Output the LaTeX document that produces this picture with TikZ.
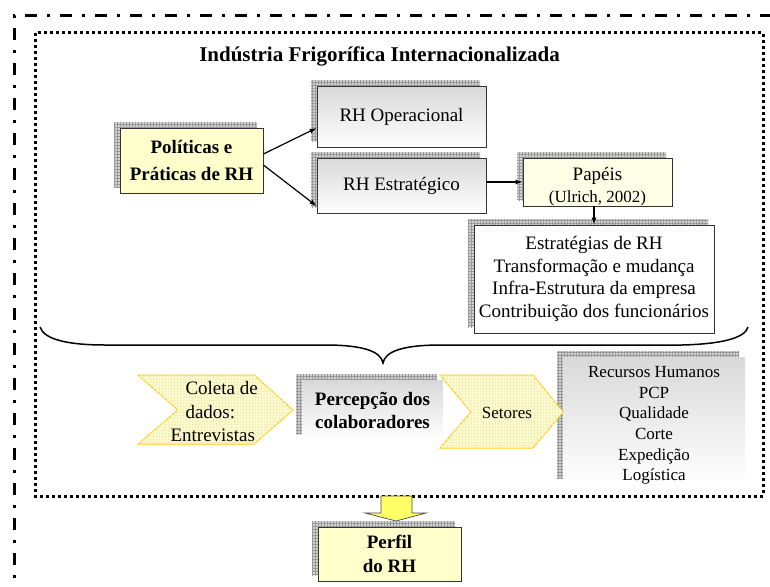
\documentclass[tikz,border=0pt]{standalone}
\usepackage{fontspec}
\setmainfont{Liberation Serif}
\usetikzlibrary{arrows.meta,patterns,shadows,calc}

\definecolor{lyellow}{HTML}{FFFFCC}
\definecolor{paleyellow}{HTML}{FFFFE8}
\definecolor{chevborder}{HTML}{FFCC00}
\definecolor{chevgrid}{HTML}{F4F0C4}
\definecolor{bigarrow}{HTML}{FFFF66}
\definecolor{boxline}{HTML}{333333}

\tikzset{
  gridshadow/.style={
    general shadow={shadow xshift=-6pt, shadow yshift=6pt, fill=gray!35},
    general shadow={shadow xshift=-6pt, shadow yshift=6pt, pattern=grid, pattern color=gray!80}},
  box/.style={draw=boxline, line width=0.8pt, inner sep=2pt, align=center, gridshadow},
  plainbox/.style={draw=none, inner sep=2pt, align=center, gridshadow},
  grad/.style={top color=gray!30, bottom color=white},
  txt/.style={font=\fontsize{19}{23}\selectfont, align=center},
  btxt/.style={font=\bfseries\fontsize{19}{23}\selectfont, align=center},
  stxt/.style={font=\fontsize{17}{20.6}\selectfont, align=center},
  arr/.style={-{Latex[length=7pt,width=5pt]}, line width=1.2pt, black},
  chev/.style={draw=chevborder, line width=1pt, fill=lyellow,
    postaction={pattern=grid, pattern color=chevgrid}},
  outerframe/.style={line width=3pt, dash pattern=on 12pt off 10pt on 3pt off 10pt},
  innerframe/.style={line width=3pt, dash pattern=on 3pt off 3pt},
}

\begin{document}
\begin{tikzpicture}[x=1pt,y=-1pt]
\useasboundingbox (0,0) rectangle (770,586);

% frames
\draw[outerframe] (14,600) -- (14,16) -- (780,16);
\draw[innerframe] (35,33) rectangle (763,496);

% title
\node[font=\bfseries\fontsize{21}{25}\selectfont] (title) at (379.5,56) {Indústria Frigorífica Internacionalizada};

% boxes
\node[box, btxt, fill=lyellow, minimum width=143pt, minimum height=65pt,
  font=\bfseries\fontsize{19}{27}\selectfont] (pol) at (191.5,160.5) {Políticas e\\Práticas de RH};
\node[box, txt, grad, minimum width=169pt, minimum height=61pt] (rhop) at (401.5,116.5) {RH Operacional};
\node[box, txt, grad, minimum width=169pt, minimum height=55pt] (rhest) at (401.5,185.5) {RH Estratégico};
\node[box, fill=paleyellow, minimum width=149pt, minimum height=48pt] (pap) at (597.5,182) {};
\node[font=\fontsize{19}{22}\selectfont, align=center] (paptxt) at (597.5,187)
  {Papéis\\{\fontsize{17}{22}\selectfont (Ulrich, 2002)}};
\node[box, font=\fontsize{19}{22.5}\selectfont, align=center, fill=white, minimum width=240pt, minimum height=108pt] (estr) at (594,279)
  {Estratégias de RH\\Transformação e mudança\\Infra-Estrutura da empresa\\Contribuição dos funcionários};

% connectors
\draw[arr] ([yshift=6.5pt]pol.east) -- ([yshift=-11.5pt]rhop.west);
\draw[arr] ([yshift=-4.5pt]pol.east) -- ([yshift=-20.5pt]rhest.west);
\draw[arr] (rhest.east |- pap.west) -- (pap.west);
\draw[arr] (pap.south -| estr.north) -- (estr.north);

% brace
\draw[line width=1.5pt] (40,327) .. controls (44,340) and (70,345) .. (105,345) -- (325,345)
  .. controls (365,345) and (381,352) .. (383,363)
  .. controls (385,352) and (401,345) .. (441,345) -- (682,345)
  .. controls (722,344) and (745,338) .. (748,327);

% lower row
\node[plainbox, btxt, grad, minimum width=141pt, minimum height=60pt] (perc) at (372.5,410) {Percepção dos\\colaboradores};
\node[plainbox, grad, minimum width=182pt, minimum height=127pt] (set) at (654,420.5) {};
\node[stxt] (settxt) at (654,425.5)
  {Recursos Humanos\\PCP\\Qualidade\\Corte\\Expedição\\Logística};

\draw[chev] (138,375) -- (254,375) -- (293,410) -- (254,444) -- (138,444) -- (178,410) -- cycle;
\node[font=\fontsize{19}{23.5}\selectfont, align=left, anchor=west] (coleta) at (167,411.5)
  {\hspace*{15pt}Coleta de\\\hspace*{15pt}dados:\\Entrevistas};
\draw[chev] (440,375) -- (533,375) -- (563,412) -- (533,448) -- (440,448) -- (471,412) -- cycle;
\node[font=\fontsize{17}{20}\selectfont] (setores) at (507,413) {Setores};

% big arrow and result
\node[box, btxt, fill=lyellow, minimum width=143pt, minimum height=54pt,
  font=\bfseries\fontsize{19}{24}\selectfont] (perfil) at (389.5,554) {Perfil\\do RH};
\draw[fill=bigarrow, draw=black!70, line width=0.7pt]
  (381,496) -- (412,496) -- (412,513) -- (426,513) -- (396,521) -- (365,513) -- (381,513) -- cycle;
\end{tikzpicture}
\end{document}
